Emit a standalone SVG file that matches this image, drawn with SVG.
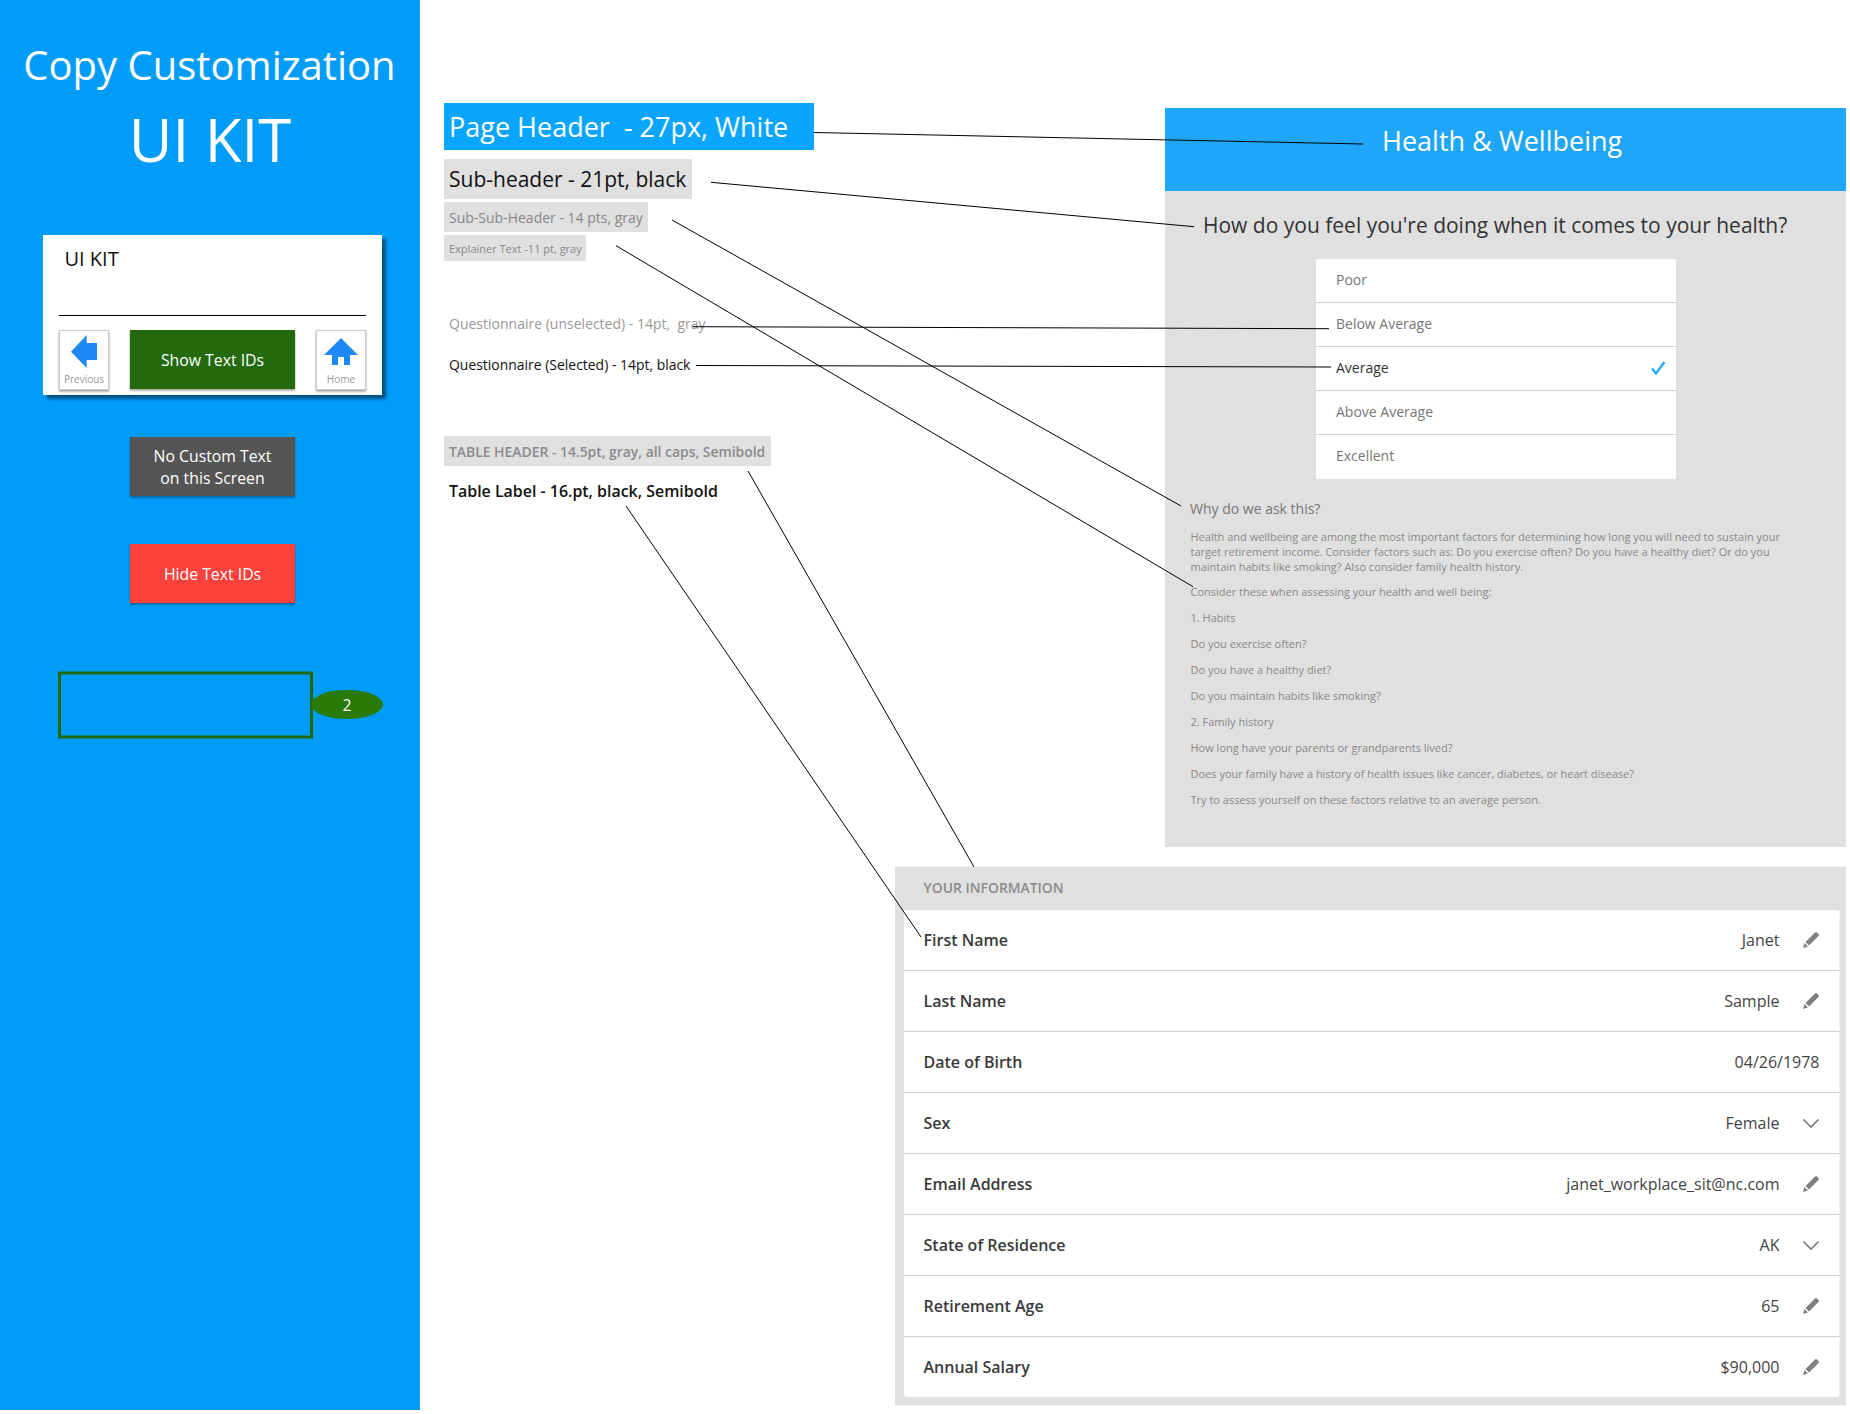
<svg xmlns="http://www.w3.org/2000/svg" width="1850" height="1414" viewBox="0 0 1850 1414">
<defs>
<style>
text{font-family:"Open Sans","Noto Sans","Liberation Sans",sans-serif;white-space:pre}
.w{fill:#fff}
.c{text-anchor:middle}
.bt{font-size:15.800px;fill:#fff;text-anchor:middle}
.lbl{font-size:16px;font-weight:600;fill:#3a3a3a}
.val{font-size:16px;fill:#444;text-anchor:end}
.opt{font-size:14px;fill:#777}
.ex{font-size:11px;fill:#888}
.sep{stroke:#d0d0d0;stroke-width:1.200;fill:none}
.con{stroke:#000;stroke-width:1;fill:none}
.lab{fill:#e0e0e0}
.chev{fill:none;stroke:#777;stroke-width:1.600}
</style>
<filter id="cardS" x="-5%" y="-5%" width="115%" height="115%"><feDropShadow dx="4" dy="4" stdDeviation="1.500" flood-color="#003a60" flood-opacity=".75"/></filter>
<filter id="btnS" x="-5%" y="-5%" width="115%" height="120%"><feDropShadow dx="0" dy="1.500" stdDeviation="1" flood-color="#000" flood-opacity=".4"/></filter>
<path id="pen" d="M1803 949l1.500-5 3.500 3.500zM1805.500 943l9.500-9.500q1-1 2 0l1.500 1.500q1 1 0 2l-9.500 9.500z" fill="#808080"/>
<path id="chev" d="M1803.500 1119.500l7.500 7.500 7.500-7.500" class="chev"/>
</defs>
<rect width="1850" height="1414" fill="#fff"/>

<g id="sidebar">
<rect x="0" y="0" width="420" height="1410" fill="#009cf8"/>
<text class="w" x="209.500" y="80" text-anchor="middle" font-size="40">Copy Customization</text>
<text class="w" x="210" y="162" text-anchor="middle" font-size="60">UI KIT</text>
</g>

<g id="card">
<rect x="43" y="235" width="339" height="160" fill="#fff" filter="url(#cardS)"/>
<text x="64.500" y="266" font-size="20" fill="#111">UI KIT</text>
<line x1="59" y1="315.500" x2="366" y2="315.500" stroke="#000" stroke-width="1.200"/>
</g>
<g id="btn-previous">
<rect x="59.500" y="330.500" width="49" height="59" fill="#fff" stroke="#ccc" filter="url(#btnS)"/>
<path d="M71 351.700L86.700 335V343H97V360H86.700V368z" fill="#1e88f5"/>
<text x="84" y="383" class="c" font-size="10" fill="#999">Previous</text>
</g>
<g id="btn-show">
<rect x="130" y="330" width="165" height="59" fill="#226a08" filter="url(#btnS)"/>
<text x="212.500" y="366" class="bt">Show Text IDs</text>
</g>
<g id="btn-home">
<rect x="316.500" y="330.500" width="49" height="59" fill="#fff" stroke="#ccc" filter="url(#btnS)"/>
<path d="M341 338L358 355H350V365H344V357H338V365H332V355H324z" fill="#1e88f5"/>
<text x="341" y="383" class="c" font-size="10" fill="#999">Home</text>
</g>
<g id="btn-nocustom">
<rect x="130" y="437" width="165" height="59" fill="#555" filter="url(#btnS)"/>
<text x="212.500" y="462" class="bt">No Custom Text</text>
<text x="212.500" y="484" class="bt">on this Screen</text>
</g>
<g id="btn-hide">
<rect x="130" y="544" width="165" height="59" fill="#f9423a" filter="url(#btnS)"/>
<text x="212.500" y="580" class="bt">Hide Text IDs</text>
</g>
<g id="id-highlight">
<rect x="59.500" y="673" width="252" height="64" fill="none" stroke="#226a08" stroke-width="3"/>
<ellipse cx="347" cy="704.500" rx="36" ry="14.500" fill="#2a7a08"/>
<text x="347" y="711" class="bt">2</text>
</g>

<g id="legend-page-header">
<rect x="444" y="103" width="370" height="47" fill="#09a5ff"/>
<text class="w" x="449" y="137" font-size="27">Page Header  - 27px, White</text>
</g>
<g id="legend-sub-header">
<rect class="lab" x="444" y="159" width="248" height="40"/>
<text x="449" y="187" font-size="21" fill="#111">Sub-header - 21pt, black</text>
</g>
<g id="legend-sub-sub">
<rect class="lab" x="444" y="202" width="204" height="30"/>
<text x="449" y="223" font-size="14" fill="#888">Sub-Sub-Header - 14 pts, gray</text>
</g>
<g id="legend-explainer">
<rect class="lab" x="444" y="235" width="142" height="26"/>
<text x="449" y="253" font-size="11" fill="#888">Explainer Text -11 pt, gray</text>
</g>
<g id="legend-unselected">
<text x="449" y="329" font-size="14" fill="#999">Questionnaire (unselected) - 14pt,  gray</text>
</g>
<g id="legend-selected">
<text x="449" y="370" font-size="13.950" fill="#111">Questionnaire (Selected) - 14pt, black</text>
</g>
<g id="legend-table-header">
<rect class="lab" x="444" y="436" width="327" height="30"/>
<text x="449" y="457" font-size="13.900" font-weight="600" fill="#8a8a8a">TABLE HEADER - 14.5pt, gray, all caps, Semibold</text>
</g>
<g id="legend-table-label">
<text x="449" y="497" font-size="15.950" font-weight="600" fill="#111">Table Label - 16.pt, black, Semibold</text>
</g>

<g id="health-panel">
<rect x="1165" y="108" width="681" height="739" fill="#e0e0e0"/>
<rect x="1165" y="108" width="681" height="83" fill="#1fa6f8"/>
<text class="w" x="1382" y="151" font-size="27">Health &amp; Wellbeing</text>
<text x="1203" y="233" font-size="21" fill="#333">How do you feel you're doing when it comes to your health?</text>
<text x="1190" y="514" font-size="14" fill="#777">Why do we ask this?</text>
<text class="ex" x="1190.500" y="541">Health and wellbeing are among the most important factors for determining how long you will need to sustain your</text>
<text class="ex" x="1190.500" y="556">target retirement income. Consider factors such as: Do you exercise often? Do you have a healthy diet? Or do you</text>
<text class="ex" x="1190.500" y="571">maintain habits like smoking? Also consider family health history.</text>
<text class="ex" x="1190.500" y="596">Consider these when assessing your health and well being:</text>
<text class="ex" x="1190.500" y="622">1. Habits</text>
<text class="ex" x="1190.500" y="648">Do you exercise often?</text>
<text class="ex" x="1190.500" y="674">Do you have a healthy diet?</text>
<text class="ex" x="1190.500" y="700">Do you maintain habits like smoking?</text>
<text class="ex" x="1190.500" y="726">2. Family history</text>
<text class="ex" x="1190.500" y="752">How long have your parents or grandparents lived?</text>
<text class="ex" x="1190.500" y="778">Does your family have a history of health issues like cancer, diabetes, or heart disease?</text>
<text class="ex" x="1190.500" y="804">Try to assess yourself on these factors relative to an average person.</text>
</g>
<g id="options">
<rect x="1316" y="259" width="360" height="220" rx="2" fill="#fff"/>
<path class="sep" d="M1316 302.500H1676M1316 346.500H1676M1316 390.500H1676M1316 434.500H1676"/>
<text class="opt" x="1336" y="285">Poor</text>
<text class="opt" x="1336" y="329">Below Average</text>
<text x="1336" y="373" font-size="14" fill="#333">Average</text>
<text class="opt" x="1336" y="417">Above Average</text>
<text class="opt" x="1336" y="461">Excellent</text>
<path d="M1652 368.500l4 5 8.500-11.500" fill="none" stroke="#1fa6f8" stroke-width="2.200"/>
</g>

<g id="info-panel">
<rect x="895" y="866.500" width="951" height="539" fill="#e0e0e0"/>
<text x="923.500" y="893" font-size="13.900" font-weight="600" fill="#8a8a8a">YOUR INFORMATION</text>
<rect x="904" y="910.500" width="935.500" height="486.500" rx="3" fill="#fff"/>
<path d="M904 910.500h935.500v4h-935.500z" fill="#fff"/>
<path class="sep" d="M904 970.500H1839.500M904 1031.500H1839.500M904 1092.500H1839.500M904 1153.500H1839.500M904 1214.500H1839.500M904 1275.500H1839.500M904 1336.500H1839.500"/>
<text class="lbl" x="923.500" y="946">First Name</text>
<text class="lbl" x="923.500" y="1007">Last Name</text>
<text class="lbl" x="923.500" y="1068">Date of Birth</text>
<text class="lbl" x="923.500" y="1129">Sex</text>
<text class="lbl" x="923.500" y="1190">Email Address</text>
<text class="lbl" x="923.500" y="1251">State of Residence</text>
<text class="lbl" x="923.500" y="1312">Retirement Age</text>
<text class="lbl" x="923.500" y="1373">Annual Salary</text>
<text class="val" x="1779.500" y="946">Janet</text>
<text class="val" x="1779.500" y="1007">Sample</text>
<text class="val" x="1819.500" y="1068">04/26/1978</text>
<text class="val" x="1779.500" y="1129">Female</text>
<text class="val" x="1779.500" y="1190">janet_workplace_sit@nc.com</text>
<text class="val" x="1779.500" y="1251">AK</text>
<text class="val" x="1779.500" y="1312">65</text>
<text class="val" x="1779.500" y="1373">$90,000</text>
<use href="#pen" y="-1"/>
<use href="#pen" y="60"/>
<use href="#pen" y="243"/>
<use href="#pen" y="365"/>
<use href="#pen" y="426"/>
<use href="#chev"/>
<use href="#chev" y="122"/>
</g>

<g id="connectors">
<line class="con" x1="814" y1="132.500" x2="1363" y2="144"/>
<line class="con" x1="711" y1="182.300" x2="1194" y2="226.700"/>
<line class="con" x1="672" y1="220" x2="1181" y2="506"/>
<line class="con" x1="616" y1="245.700" x2="1193" y2="586.700"/>
<line class="con" x1="693" y1="326.700" x2="1329" y2="328.700"/>
<line class="con" x1="696" y1="365.500" x2="1331" y2="367"/>
<line class="con" x1="748" y1="471" x2="974" y2="867"/>
<line class="con" x1="626" y1="506" x2="921" y2="937"/>
</g>
</svg>
